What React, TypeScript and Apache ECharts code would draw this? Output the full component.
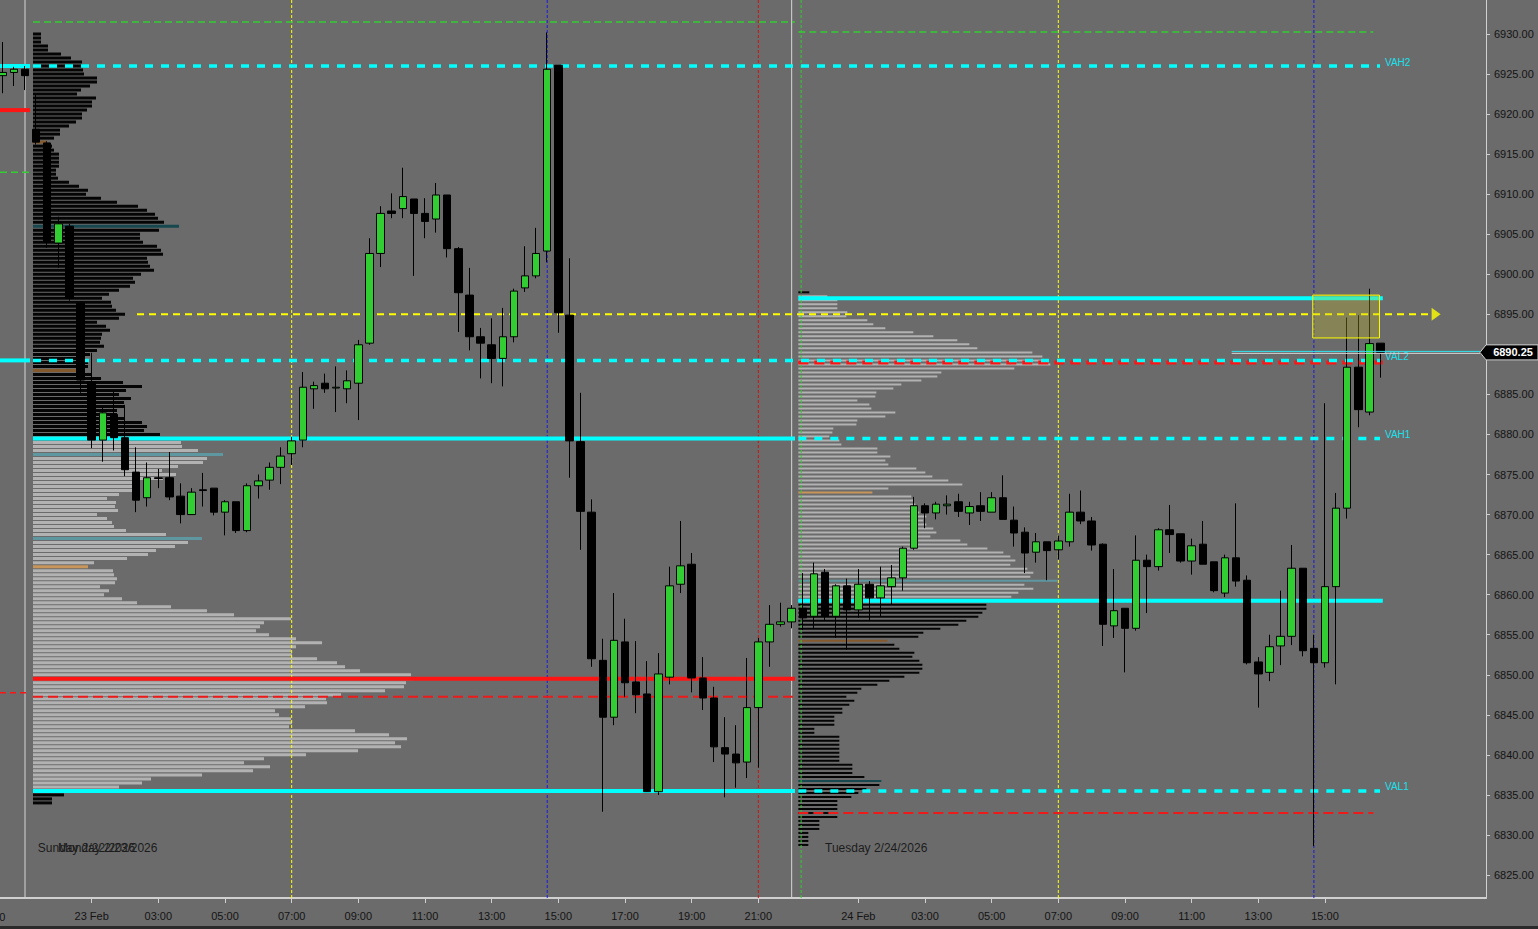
import React, { useEffect, useRef } from "react";
import * as echarts from "echarts";

const FONT = '"Liberation Sans", Arial, Helvetica, sans-serif';

// ---------------- axes ----------------
const Y_MIN = 6822.128;
const Y_MAX = 6934.245;
const X_MIN = 0.75;
const X_MAX = 134.49;
const PRICE_TICKS = [6825, 6830, 6835, 6840, 6845, 6850, 6855, 6860, 6865, 6870, 6875, 6880, 6885, 6890, 6895, 6900, 6905, 6910, 6915, 6920, 6925, 6930];
const TIME_TICK_INDEX = [0, 9, 15, 21, 27, 33, 39, 45, 51, 57, 63, 69, 78, 84, 90, 96, 102, 108, 114, 120];
const TIME_TICK_LABEL = ["21:00", "23 Feb", "03:00", "05:00", "07:00", "09:00", "11:00", "13:00", "15:00", "17:00", "19:00", "21:00", "24 Feb", "03:00", "05:00", "07:00", "09:00", "11:00", "13:00", "15:00"];

// ---------------- 20-minute candles (bar index = FIRST_BAR + k) ----------------
const FIRST_BAR = 1;
const opens = [
  6924.8, 6925.2, 6925.6,
  6918.1, 6916.4, 6903.9, 6906.0, 6896.4, 6886.6, 6879.3, 6882.5, 6879.6, 6875.3,
  6872.1, 6874.6, 6874.6, 6872.3, 6870.0, 6873.1, 6873.3, 6870.3, 6871.6, 6868.0,
  6873.6, 6874.3, 6875.9, 6877.6, 6879.3, 6885.7, 6886.4, 6885.8, 6885.7, 6886.4,
  6891.4, 6902.6, 6907.9, 6908.2, 6909.4, 6907.6, 6906.9, 6909.9, 6903.2, 6897.4,
  6892.2, 6891.2, 6889.5, 6892.2, 6898.3, 6899.8, 6902.9, 6926.1, 6894.9, 6879.1,
  6870.3, 6851.8, 6844.7, 6854.1, 6849.1, 6847.6, 6835.4, 6849.7, 6861.3, 6863.8,
  6849.6, 6847.1, 6840.9, 6840.1, 6839.1, 6845.9, 6854.1, 6856.3, 6856.6, 6858.3,
  6857.3, 6862.8, 6857.3, 6861.1, 6858.1, 6861.3, 6859.6, 6861.0, 6862.1, 6865.8,
  6871.1, 6870.2, 6871.1, 6871.6, 6870.2, 6871.1, 6870.3, 6872.1, 6869.3, 6867.8,
  6865.3, 6866.6, 6865.6, 6866.6, 6870.3, 6869.2, 6866.3, 6856.1, 6858.3, 6855.8,
  6864.3, 6863.5, 6868.1, 6867.6, 6864.2, 6866.3, 6864.1, 6860.2, 6864.6, 6861.8,
  6851.6, 6850.3, 6853.6, 6854.8, 6863.3, 6853.3, 6851.5, 6861.0, 6870.8, 6888.4,
  6882.8, 6891.4,
];
const closes = [
  6925.2, 6925.6, 6924.8,
  6916.5, 6904.0, 6906.3, 6897.0, 6886.8, 6879.3, 6882.7, 6879.6, 6875.6, 6871.8,
  6874.6, 6874.5, 6872.2, 6870.0, 6872.8, 6873.0, 6870.3, 6871.6, 6868.0, 6873.6,
  6874.2, 6875.9, 6877.3, 6879.2, 6885.9, 6886.1, 6885.7, 6885.9, 6886.7, 6891.2,
  6902.6, 6907.6, 6907.6, 6909.7, 6907.6, 6906.6, 6909.9, 6903.2, 6897.7, 6892.2,
  6891.4, 6889.5, 6892.2, 6897.9, 6899.8, 6902.6, 6925.6, 6895.2, 6879.2, 6870.4,
  6852.0, 6844.7, 6854.3, 6849.0, 6847.5, 6835.4, 6850.1, 6861.1, 6863.6, 6849.6,
  6847.1, 6841.0, 6840.1, 6839.0, 6845.9, 6854.1, 6856.3, 6856.6, 6858.3, 6857.1,
  6862.6, 6857.3, 6861.1, 6858.1, 6861.3, 6859.6, 6861.1, 6862.1, 6865.8, 6871.1,
  6870.2, 6871.3, 6871.3, 6870.4, 6871.0, 6870.4, 6872.1, 6869.4, 6867.7, 6865.2,
  6866.6, 6865.5, 6866.7, 6870.3, 6869.2, 6866.2, 6856.3, 6858.0, 6855.8, 6864.3,
  6863.5, 6868.1, 6867.5, 6864.2, 6866.1, 6863.8, 6860.5, 6864.6, 6861.7, 6851.5,
  6850.1, 6853.5, 6854.8, 6863.3, 6853.0, 6851.5, 6861.0, 6870.8, 6888.4, 6883.1,
  6891.35, 6890.25,
];
const lows = [
  6922.6, 6923.5, 6923.0,
  6916.2, 6903.3, 6900.8, 6896.7, 6885.2, 6878.3, 6876.6, 6878.0, 6874.8, 6870.3,
  6871.0, 6873.3, 6871.8, 6868.9, 6870.0, 6871.0, 6869.9, 6867.4, 6867.7, 6867.8,
  6872.0, 6873.1, 6873.8, 6876.2, 6878.4, 6883.2, 6885.2, 6882.8, 6883.9, 6881.8,
  6891.2, 6900.9, 6907.0, 6907.0, 6899.8, 6904.5, 6905.2, 6902.1, 6892.8, 6890.5,
  6887.0, 6886.4, 6886.0, 6891.5, 6897.8, 6899.5, 6901.5, 6892.7, 6874.6, 6865.6,
  6851.0, 6832.9, 6843.7, 6847.2, 6845.2, 6835.4, 6835.0, 6848.8, 6860.2, 6847.8,
  6845.6, 6839.1, 6834.7, 6835.9, 6837.1, 6838.4, 6851.0, 6856.0, 6855.8, 6855.6,
  6855.8, 6856.8, 6854.6, 6853.1, 6857.1, 6856.8, 6857.3, 6858.8, 6860.5, 6865.6,
  6868.3, 6869.4, 6870.0, 6869.7, 6868.7, 6869.2, 6870.3, 6869.4, 6866.0, 6862.7,
  6864.0, 6861.8, 6864.4, 6866.0, 6868.8, 6865.5, 6853.6, 6854.6, 6850.3, 6855.5,
  6857.7, 6863.0, 6865.2, 6864.0, 6862.5, 6863.8, 6860.3, 6859.7, 6861.0, 6851.3,
  6845.9, 6849.2, 6851.2, 6853.7, 6852.3, 6828.6, 6850.9, 6848.8, 6869.5, 6880.9,
  6882.4, 6887.1,
];
const highs = [
  6929.0, 6925.9, 6926.0,
  6922.5, 6916.6, 6907.2, 6906.3, 6896.6, 6890.2, 6883.4, 6885.3, 6883.7, 6878.4,
  6876.5, 6875.7, 6877.8, 6873.9, 6873.3, 6875.2, 6873.3, 6871.8, 6871.6, 6873.9,
  6875.0, 6876.5, 6878.4, 6879.7, 6887.8, 6886.6, 6887.6, 6888.5, 6888.0, 6891.8,
  6904.5, 6908.5, 6910.1, 6913.3, 6909.4, 6909.5, 6911.4, 6909.9, 6903.4, 6900.8,
  6893.3, 6894.5, 6895.8, 6898.2, 6903.5, 6905.8, 6930.2, 6926.1, 6902.0, 6885.2,
  6871.9, 6854.5, 6860.2, 6857.0, 6854.2, 6851.7, 6852.7, 6863.5, 6869.2, 6865.2,
  6852.2, 6848.5, 6844.7, 6843.7, 6852.1, 6854.6, 6858.7, 6859.0, 6858.7, 6862.7,
  6864.0, 6863.2, 6861.3, 6862.0, 6863.2, 6861.7, 6863.5, 6863.7, 6866.0, 6872.2,
  6871.4, 6871.6, 6872.4, 6872.6, 6871.6, 6872.8, 6872.8, 6874.9, 6871.0, 6868.4,
  6867.7, 6866.6, 6867.4, 6872.6, 6873.0, 6869.7, 6866.4, 6863.2, 6858.3, 6867.4,
  6865.0, 6868.3, 6871.2, 6867.6, 6867.0, 6869.2, 6864.1, 6865.0, 6871.4, 6862.4,
  6852.2, 6855.0, 6860.5, 6866.2, 6863.3, 6855.0, 6883.9, 6872.7, 6894.6, 6894.9,
  6898.2, 6891.4,
];

// ---------------- volume profiles (0.5 pt rows, from top price downward) ----------------
const PROFILE_STEP = 0.5;
const PROFILE_UNITS_PER_BAR = 11.11;
const day1ProfileTop = 6930;
const day1Volume = [
  8, 8, 8, 15, 15, 28, 38, 49, 50, 50,
  51, 64, 64, 57, 48, 44, 63, 59, 59, 54,
  49, 49, 43, 36, 27, 27, 21, 14, 19, 21,
  26, 26, 26, 26, 23, 23, 25, 36, 46, 55,
  53, 68, 84, 105, 114, 122, 125, 131, 146, 126,
  107, 107, 110, 124, 128, 130, 114, 115, 117, 121,
  108, 100, 102, 97, 86, 76, 69, 78, 79, 83,
  92, 86, 64, 73, 77, 69, 68, 67, 71, 64,
  57, 50, 55, 55, 44, 58, 68, 90, 109, 93,
  86, 98, 91, 92, 84, 84, 92, 109, 114, 111,
  127, 125, 148, 149, 165, 190, 174, 170, 145, 129,
  143, 130, 104, 99, 99, 86, 74, 83, 82, 85,
  64, 74, 79, 81, 93, 133, 169, 155, 142, 123,
  115, 94, 61, 55, 80, 81, 84, 82, 67, 76,
  71, 89, 104, 138, 174, 201, 258, 231, 227, 223,
  236, 263, 289, 263, 258, 259, 284, 304, 312, 327,
  378, 380, 373, 371, 352, 308, 293, 294, 272, 242,
  246, 258, 259, 256, 322, 356, 374, 362, 368, 325,
  273, 231, 211, 237, 220, 169, 118, 109, 86, 60,
  31, 19, 19,
];
const day1VAH = 6879.5;
const day1VAL = 6835.5;
const day1POC = 6849.5;
const day1TealRows = [6906, 6877.5, 6867];
const day1BrownRows = [6916.5, 6888, 6863.5];

const day2ProfileTop = 6897.75;
const day2Volume = [
  11, 29, 39, 39, 39, 49, 48, 69, 75, 87,
  115, 135, 159, 171, 179, 234, 244, 248, 252, 216,
  143, 139, 123, 103, 95, 78, 77, 59, 71, 73,
  97, 87, 59, 58, 35, 34, 31, 41, 43, 79,
  79, 92, 87, 90, 118, 127, 134, 150, 164, 90,
  74, 113, 115, 117, 118, 121, 128, 125, 128, 135,
  138, 132, 162, 169, 189, 205, 212, 217, 212, 229,
  235, 232, 259, 226, 235, 220, 213, 200, 188, 188,
  184, 180, 168, 160, 142, 125, 120, 89, 96, 101,
  116, 114, 121, 124, 124, 121, 106, 91, 79, 63,
  59, 48, 56, 51, 44, 44, 36, 36, 36, 16,
  16, 41, 41, 41, 41, 41, 41, 41, 54, 54,
  54, 66, 83, 81, 68, 60, 53, 39, 39, 39,
  39, 39, 21, 21, 21, 10, 10, 10, 10,
];
const day2VAH = 6897;
const day2VAL = 6859.25;
const day2POC = 6889;
const day2TealRows = [6861.75, 6836.75];
const day2BrownRows = [6872.75, 6854.25];

// ---------------- sessions (bar index spans) ----------------
const PREV_END = 3.45;
const DAY1_START = 3.72;
const DAY1_END = 72.3;
const DAY2_START = 72.6;
const DAY2_END = 125.2;
const EXT_END = 124.95;
const DAY2_SHORT_END = 124.35;

// key levels
const LEVELS: { price: number; from: number; to: number; kind: string }[] = [
  { price: 6931.5, from: DAY1_START, to: DAY1_END, kind: "greenDash" },
  { price: 6930.25, from: DAY2_START, to: DAY2_SHORT_END, kind: "greenDash" },
  { price: 6912.75, from: X_MIN, to: PREV_END, kind: "greenDash" },
  { price: 6920.5, from: X_MIN, to: PREV_END, kind: "redSolid" },
  { price: 6847.75, from: X_MIN, to: PREV_END, kind: "redDashThin" },
  { price: 6926, from: X_MIN, to: PREV_END, kind: "cyanSolid" },
  { price: 6926, from: DAY1_START, to: EXT_END, kind: "cyanDash" },
  { price: 6889.25, from: X_MIN, to: PREV_END, kind: "cyanSolid" },
  { price: day1VAH, from: DAY1_START, to: DAY1_END, kind: "cyanSolid" },
  { price: day1VAH, from: DAY2_START, to: EXT_END, kind: "cyanDash" },
  { price: day1VAL, from: DAY1_START, to: DAY1_END, kind: "cyanSolid" },
  { price: day1VAL, from: DAY2_START, to: EXT_END, kind: "cyanDash" },
  { price: day1POC, from: DAY1_START, to: DAY1_END, kind: "redSolid" },
  { price: 6847.25, from: DAY1_START, to: DAY1_END, kind: "redDash" },
  { price: day2POC, from: DAY2_START, to: DAY2_END, kind: "redDashThick" },
  { price: 6889.25, from: DAY1_START, to: EXT_END, kind: "cyanDash" },
  { price: 6832.75, from: DAY2_START, to: DAY2_SHORT_END, kind: "redDash" },
  { price: day2VAH, from: DAY2_START, to: DAY2_END, kind: "cyanSolid" },
  { price: day2VAL, from: DAY2_START, to: DAY2_END, kind: "cyanSolid" },
  { price: 6895, from: 13.08, to: 129.45, kind: "yellowDash" },
];
const LEVEL_LABELS = ["VAH2", "VAL2", "VAH1", "VAL1"];
const LEVEL_LABEL_PRICES = [6926, 6889.25, 6879.5, 6835.5];
const LEVEL_LABEL_AT = 125.4;
const ARROW_AT = 130.0;
const ARROW_PRICE = 6895;

// vertical markers (bar index)
const SESSION_BREAKS = [3, 72];
const OPEN_MARKERS = [27, 96];
const BLUE_MARKERS = [50, 119];
const RED_MARKERS = [69];
const GREEN_MARKERS = [72.85];

// signal box and last price
const BOX_FROM = 118.9;
const BOX_TO = 124.9;
const BOX_TOP = 6897.4;
const BOX_BOTTOM = 6892.05;
const LAST_PRICE = 6890.25;
const LAST_LINE_FROM = 111.6;

// session date labels
const SESSION_LABELS = ["Sunday 2/22/2026", "Monday 2/23/2026", "Tuesday 2/24/2026"];
const SESSION_LABEL_AT = [4.15, 5.97, 75.0];
const SESSION_LABEL_PRICE = 6828.37;

// ---------------- styles ----------------
const BG = "#6b6b6b";
const AXIS_TEXT = "#141414";
const LINE_STYLES: Record<string, any> = {
  greenDash: { color: "#32cd32", width: 1.5, type: [7, 4] },
  redSolid: { color: "#ff1414", width: 4, type: "solid" },
  redDashThin: { color: "#ff1414", width: 1.5, type: [6, 4] },
  redDash: { color: "#ee1a1a", width: 2, type: [10, 5] },
  redDashThick: { color: "#ff1414", width: 4, type: [10, 6] },
  cyanSolid: { color: "#00ffff", width: 4, type: "solid" },
  cyanDash: { color: "#00ffff", width: 3.5, type: [8, 8] },
  yellowDash: { color: "#ffff00", width: 2, type: [7, 5] },
};
const PROFILE_COLORS = ["#050505", "#b2b2b2", "#17474f", "#5f97a1", "#845a2c", "#c8965a"];

function profileRows(top: number, volumes: number[], start: number, vah: number, val: number, teal: number[], brown: number[]) {
  return volumes.map((v, k) => {
    const price = top - k * PROFILE_STEP;
    const inVA = price <= vah + 0.25 && price >= val;
    let kind = inVA ? 1 : 0;
    if (teal.includes(price)) kind = inVA ? 3 : 2;
    if (brown.includes(price)) kind = inVA ? 5 : 4;
    return [start, price, v, kind];
  });
}

function profileRenderer(rowHeight: number) {
  return (_params: any, api: any) => {
    const start = api.value(0);
    const price = api.value(1);
    const vol = api.value(2);
    const kind = api.value(3);
    const a = api.coord([start, price]);
    const b = api.coord([start + vol / PROFILE_UNITS_PER_BAR, price]);
    return {
      type: "rect",
      shape: { x: a[0], y: a[1] - rowHeight / 2, width: b[0] - a[0], height: rowHeight },
      style: { fill: PROFILE_COLORS[kind] },
    };
  };
}

function vLine(x: number, style: any, z: number) {
  return {
    type: "line",
    data: [[x, Y_MIN], [x, Y_MAX]],
    symbol: "none",
    silent: true,
    z,
    lineStyle: style,
  };
}

function buildOption() {
  const tickLabelMap = new Map<number, string>();
  TIME_TICK_INDEX.forEach((v, i) => tickLabelMap.set(v, TIME_TICK_LABEL[i]));
  const inRangeTicks = TIME_TICK_INDEX.filter((v) => v >= X_MIN && v <= X_MAX);
  const outRangeTicks = TIME_TICK_INDEX.filter((v) => v < X_MIN || v > X_MAX);

  const candleRows = opens.map((o, k) => [FIRST_BAR + k, o, closes[k], lows[k], highs[k]]);

  const series: any[] = [];

  // profiles
  series.push({
    type: "custom",
    silent: true,
    clip: true,
    z: 1,
    renderItem: profileRenderer(3),
    encode: { x: 0, y: 1 },
    data: profileRows(day1ProfileTop, day1Volume, DAY1_START, day1VAH, day1VAL, day1TealRows, day1BrownRows),
  });
  series.push({
    type: "custom",
    silent: true,
    clip: true,
    z: 1,
    renderItem: profileRenderer(2),
    encode: { x: 0, y: 1 },
    data: profileRows(day2ProfileTop, day2Volume, DAY2_START, day2VAH, day2VAL, day2TealRows, day2BrownRows),
  });

  // vertical markers
  SESSION_BREAKS.forEach((x) => series.push(vLine(x, { color: "#d6d6d6", width: 1, type: "solid" }, 2)));
  OPEN_MARKERS.forEach((x) => series.push(vLine(x, { color: "#ffff00", width: 1, type: [3, 2] }, 2)));
  BLUE_MARKERS.forEach((x) => series.push(vLine(x, { color: "#1a1ad8", width: 1, type: [3, 2] }, 2)));
  RED_MARKERS.forEach((x) => series.push(vLine(x, { color: "#d41010", width: 1, type: [3, 2] }, 2)));
  GREEN_MARKERS.forEach((x) => series.push(vLine(x, { color: "#32cd32", width: 1, type: [3, 2] }, 2)));

  // horizontal levels
  LEVELS.forEach((l) =>
    series.push({
      type: "line",
      data: [[l.from, l.price], [l.to, l.price]],
      symbol: "none",
      silent: true,
      z: 3,
      lineStyle: LINE_STYLES[l.kind],
    })
  );

  // arrow head of the yellow level
  series.push({
    type: "scatter",
    data: [[ARROW_AT, ARROW_PRICE]],
    symbol: "triangle",
    symbolSize: [13, 9],
    symbolRotate: -90,
    silent: true,
    z: 3,
    itemStyle: { color: "#ffff00" },
  });

  // candles
  series.push({
    type: "candlestick",
    data: candleRows,
    encode: { x: 0, y: [1, 2, 3, 4] },
    barWidth: 8,
    silent: true,
    z: 5,
    itemStyle: {
      color: "#32cd32",
      color0: "#000000",
      borderColor: "#000000",
      borderColor0: "#000000",
      borderColorDoji: "#000000",
      borderWidth: 1,
    },
  });

  // signal box
  series.push({
    type: "custom",
    silent: true,
    clip: true,
    z: 6,
    encode: { x: 0, y: 1 },
    data: [[BOX_FROM, BOX_TOP, BOX_TO, BOX_BOTTOM]],
    renderItem: (_p: any, api: any) => {
      const a = api.coord([api.value(0), api.value(1)]);
      const b = api.coord([api.value(2), api.value(3)]);
      return {
        type: "rect",
        shape: { x: a[0], y: a[1], width: b[0] - a[0], height: b[1] - a[1] },
        style: { fill: "rgba(200,188,40,0.30)", stroke: "#ffff00", lineWidth: 1 },
      };
    },
  });

  // level labels
  series.push({
    type: "custom",
    silent: true,
    clip: false,
    z: 7,
    encode: { x: 0, y: 1 },
    data: LEVEL_LABEL_PRICES.map((p, i) => [LEVEL_LABEL_AT, p, i]),
    renderItem: (_p: any, api: any) => {
      const a = api.coord([api.value(0), api.value(1)]);
      return {
        type: "text",
        x: a[0],
        y: a[1] - 4,
        style: {
          text: LEVEL_LABELS[api.value(2)],
          fill: "#19e0ee",
          font: `10px ${FONT}`,
          textAlign: "left",
          textVerticalAlign: "middle",
          align: "left",
          verticalAlign: "middle",
        },
      };
    },
  });

  // session date labels
  series.push({
    type: "custom",
    silent: true,
    clip: false,
    z: 7,
    encode: { x: 0, y: 1 },
    data: SESSION_LABEL_AT.map((x, i) => [x, SESSION_LABEL_PRICE, i]),
    renderItem: (_p: any, api: any) => {
      const a = api.coord([api.value(0), api.value(1)]);
      return {
        type: "text",
        x: a[0],
        y: a[1],
        style: {
          text: SESSION_LABELS[api.value(2)],
          fill: "#1c1c1c",
          font: `12px ${FONT}`,
          textAlign: "left",
          textVerticalAlign: "middle",
          align: "left",
          verticalAlign: "middle",
        },
      };
    },
  });

  // time labels falling just outside the visible range
  series.push({
    type: "custom",
    silent: true,
    clip: false,
    z: 7,
    encode: { x: 0, y: 1 },
    data: outRangeTicks.map((v) => [v, Y_MIN]),
    renderItem: (_p: any, api: any) => {
      const a = api.coord([api.value(0), api.value(1)]);
      return {
        type: "text",
        x: a[0],
        y: a[1] + 18.5,
        style: {
          text: tickLabelMap.get(api.value(0)) || "",
          fill: AXIS_TEXT,
          font: `11px ${FONT}`,
          textAlign: "center",
          textVerticalAlign: "middle",
          align: "center",
          verticalAlign: "middle",
        },
      };
    },
  });

  // last price line and tag
  series.push({
    type: "custom",
    silent: true,
    clip: false,
    z: 9,
    encode: { x: 0, y: 1 },
    data: [[LAST_LINE_FROM, LAST_PRICE]],
    renderItem: (_p: any, api: any) => {
      const s = api.coord([api.value(0), api.value(1)]);
      const e = api.coord([X_MAX, api.value(1)]);
      const y = s[1];
      return {
        type: "group",
        children: [
          { type: "line", shape: { x1: s[0], y1: y - 1, x2: e[0] - 6, y2: y - 1 }, style: { stroke: "#2ee6f2", lineWidth: 1 } },
          { type: "line", shape: { x1: s[0], y1: y + 1, x2: e[0] - 6, y2: y + 1 }, style: { stroke: "#d4d4d4", lineWidth: 1 } },
          {
            type: "polygon",
            shape: { points: [[e[0] - 6, y], [e[0], y - 7.5], [e[0] + 52, y - 7.5], [e[0] + 52, y + 7.5], [e[0], y + 7.5]] },
            style: { fill: "#000000", stroke: "#d0d0d0", lineWidth: 1 },
          },
          {
            type: "text",
            x: e[0] + 27,
            y,
            style: {
              text: LAST_PRICE.toFixed(2),
              fill: "#ffffff",
              font: `bold 11px ${FONT}`,
              textAlign: "center",
              textVerticalAlign: "middle",
              align: "center",
              verticalAlign: "middle",
            },
          },
        ],
      };
    },
  });

  return {
    animation: false,
    backgroundColor: BG,
    grid: { left: 0, top: 0, right: 52, bottom: 31, containLabel: false },
    xAxis: {
      type: "value",
      min: X_MIN,
      max: X_MAX,
      splitLine: { show: false },
      axisLine: { show: true, lineStyle: { color: "#d0d0d0", width: 2 } },
      axisTick: { show: true, length: 5, lineStyle: { color: "#d0d0d0" }, customValues: inRangeTicks },
      axisLabel: {
        customValues: inRangeTicks,
        formatter: (v: number) => tickLabelMap.get(v) || "",
        color: AXIS_TEXT,
        fontSize: 11,
        fontFamily: FONT,
        margin: 12,
      },
    },
    yAxis: {
      type: "value",
      position: "right",
      min: Y_MIN,
      max: Y_MAX,
      splitLine: { show: false },
      axisLine: { show: true, lineStyle: { color: "#d0d0d0", width: 1 } },
      axisTick: { show: true, length: 4, lineStyle: { color: "#d0d0d0" }, customValues: PRICE_TICKS },
      axisLabel: {
        customValues: PRICE_TICKS,
        formatter: (v: number) => v.toFixed(2),
        color: AXIS_TEXT,
        fontSize: 11,
        fontFamily: FONT,
        margin: 8,
      },
    },
    graphic: [
      { type: "rect", left: 0, bottom: 0, shape: { width: 1538, height: 3 }, style: { fill: "#2a2a2a" }, silent: true },
    ],
    series,
  };
}

export default function App() {
  const ref = useRef<HTMLDivElement>(null);
  useEffect(() => {
    document.body.style.margin = "0";
    const chart = echarts.init(ref.current!, null, { renderer: "svg" });
    chart.setOption(buildOption() as any);
    return () => chart.dispose();
  }, []);
  return <div ref={ref} style={{ width: 1538, height: 929 }} />;
}
